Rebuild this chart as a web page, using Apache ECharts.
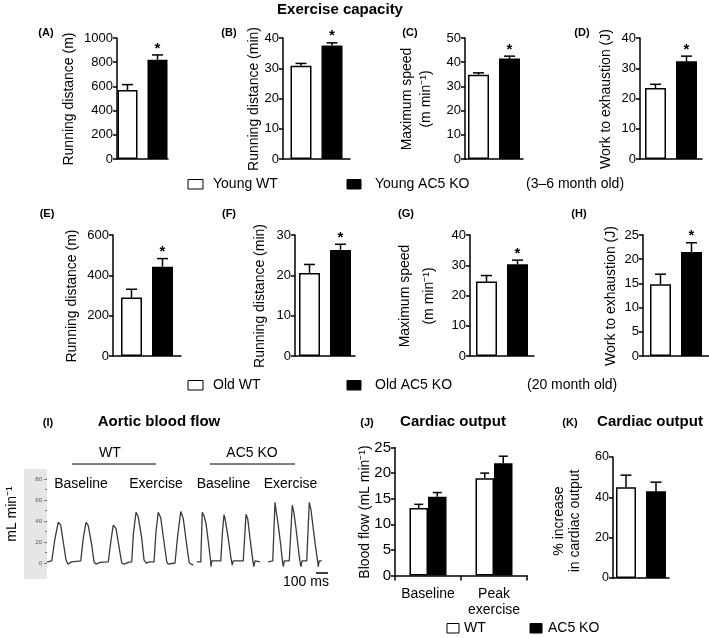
<!DOCTYPE html>
<html><head><meta charset="utf-8">
<script src="https://cdn.jsdelivr.net/npm/echarts@6/dist/echarts.min.js"></script>
<style>html,body{margin:0;padding:0;background:#fff}#c{width:709px;height:638px}</style>
</head><body><div id="c"></div>
<script>
const FONT = '"Liberation Sans", Arial, Helvetica, sans-serif';

// ---- Young mice (3–6 month old), panels A–D ----
const youngLetters = ['(A)', '(B)', '(C)', '(D)'];
const youngNames = ['Running distance (m)', 'Running distance (min)', 'Maximum speed\n(m min⁻¹)', 'Work to exhaustion (J)'];
const youngWT = [570, 30.8, 34.8, 23.5];
const youngWTErr = [45, 0.8, 0.8, 1.2];
const youngKO = [820, 37.5, 41.5, 32.3];
const youngKOErr = [40, 0.9, 1.0, 1.7];
const youngMax = [1000, 40, 50, 40];
const youngStep = [200, 10, 10, 10];

// ---- Old mice (20 month old), panels E–H ----
const oldLetters = ['(E)', '(F)', '(G)', '(H)'];
const oldNames = ['Running distance (m)', 'Running distance (min)', 'Maximum speed\n(m min⁻¹)', 'Work to exhaustion (J)'];
const oldWT = [290, 20.6, 24.6, 14.8];
const oldWTErr = [41, 2.1, 2.0, 2.1];
const oldKO = [443, 26.3, 30.3, 21.5];
const oldKOErr = [40, 1.4, 1.4, 1.9];
const oldMax = [600, 30, 40, 25];
const oldStep = [200, 10, 10, 5];

// ---- Cardiac output (J) ----
const cardiacCats = ['Baseline', 'Peak\nexercise'];
const cardiacWT = [13.2, 19.0];
const cardiacWTErr = [0.7, 1.0];
const cardiacKO = [15.4, 21.9];
const cardiacKOErr = [0.8, 1.4];

// ---- % increase in cardiac output (K) ----
const pctWT = [45];
const pctWTErr = [6];
const pctKO = [43];
const pctKOErr = [4.5];

// ---- Aortic blood flow traces (I): [time ms, mL/min] ----
const flowWT = [[0,1],[38,2],[64,23.5],[90,38.8],[110,36],[130,20],[152,3],[166,-1],[198,1],[270,2],[290,23.5],[312,38.8],[330,35.5],[358,17],[376,1],[392,-1],[424,0.5],[490,1],[510,20],[530,36],[552,33],[578,14],[598,0],[616,-1],[650,0.5],[678,1],[690,26.7],[712,48.3],[730,44],[758,23.5],[776,3],[792,0],[824,1],[856,1],[872,30],[890,48.3],[910,43],[936,20],[958,1],[970,-1],[1024,0],[1046,26.7],[1070,49],[1090,42.5],[1118,17],[1138,0],[1170,-2]];
const flowKOBase = [[1198,1],[1230,1],[1242,48.3],[1256,45],[1272,37.8],[1294,17],[1310,1],[1312,-3.5],[1318,2],[1390,2],[1404,30],[1416,46],[1424,42.5],[1450,23.5],[1472,4.5],[1482,-2],[1490,2],[1570,2],[1584,30],[1592,46.4],[1606,42],[1624,23.5],[1646,3],[1654,-3.5],[1664,2],[1704,1]];
const flowKOEx = [[1770,1],[1806,2],[1824,57.8],[1832,50.5],[1850,36],[1870,17],[1882,3],[1890,-3.5],[1898,2],[1938,2],[1962,55],[1974,49],[1992,33],[2010,14],[2024,1],[2032,-3.5],[2040,2],[2078,2],[2098,57.8],[2112,50.5],[2130,33],[2150,14],[2166,1],[2170,-3.5],[2178,2],[2198,2]];
const flowTicks = [0, 20, 40, 60, 80];

// ---- layout (positions only) ----
const rowTopLayout = [
  {left:117, width:51, bw:20, gap:10, lx:46, nx:69},
  {left:283, width:67, bw:21, gap:10, lx:229, nx:254},
  {left:465, width:58, bw:21, gap:10, lx:410, nx:417},
  {left:640, width:62, bw:21, gap:10, lx:582, nx:606}
];
const rowOldLayout = [
  {left:113, width:68, bw:21, gap:10, lx:47, nx:72},
  {left:295, width:60, bw:21, gap:10, lx:229, nx:260},
  {left:470, width:64, bw:21, gap:10, lx:406, nx:417},
  {left:643, width:66, bw:21, gap:10, lx:579, nx:611}
];

const chart = echarts.init(document.getElementById('c'), null, {renderer:'canvas'});
const grids = [], xAxes = [], yAxes = [], series = [], gfx = [];
const AX = {color:'#000', width:1.5};
const plain = v => String(v);

function txt(text, x, y, size, opts) {
  opts = opts || {};
  gfx.push({type:'text', x:x, y:y, rotation: opts.rot || 0, z: 10,
    style:{text:text, fill:'#000', font:(opts.bold?'bold ':'') + size + 'px ' + FONT,
      textAlign: opts.align || 'center', textVerticalAlign:'middle', lineHeight: opts.lh || size*1.2}});
}

function errSeries(g, data, off, capHalf, star) {
  series.push({type:'custom', xAxisIndex:g, yAxisIndex:g, z:5, data:data,
    renderItem: function(params, api) {
      const base = api.coord([api.value(0), api.value(1)]);
      const top = api.coord([api.value(0), api.value(1) + api.value(2)]);
      const x = base[0] + off;
      const ch = [
        {type:'line', shape:{x1:x, y1:base[1], x2:x, y2:top[1]}, style:{stroke:'#000', lineWidth:1.5}},
        {type:'line', shape:{x1:x-capHalf, y1:top[1], x2:x+capHalf, y2:top[1]}, style:{stroke:'#000', lineWidth:1.5}}
      ];
      if (star) ch.push({type:'text', style:{text:'*', x:x, y:top[1]+1, textAlign:'center', textVerticalAlign:'bottom', font:'bold 15px ' + FONT, fill:'#000'}});
      return {type:'group', children:ch};
    }});
}

function barPanel(L, top, height, wt, wtE, ko, koE, max, step, fontSize, star) {
  const g = grids.length;
  grids.push({left:L.left, top:top, width:L.width, height:height});
  xAxes.push({gridIndex:g, type:'category', data:[''], axisLine:{lineStyle:AX}, axisTick:{show:false}, axisLabel:{show:false}});
  yAxes.push({gridIndex:g, type:'value', min:0, max:max, interval:step,
    axisLine:{show:true, lineStyle:AX}, axisTick:{show:true, length:4, lineStyle:AX},
    axisLabel:{fontSize:fontSize, color:'#000', margin:4, fontFamily:FONT, formatter:plain}, splitLine:{show:false}});
  const gapPct = (L.gap / L.bw * 100) + '%';
  series.push({type:'bar', xAxisIndex:g, yAxisIndex:g, data:[wt], barWidth:L.bw, barGap:gapPct,
    itemStyle:{color:'#fff', borderColor:'#000', borderWidth:1.5}});
  series.push({type:'bar', xAxisIndex:g, yAxisIndex:g, data:[ko], barWidth:L.bw, barGap:gapPct,
    itemStyle:{color:'#000', borderColor:'#000', borderWidth:1.5}});
  const off = (L.bw + L.gap) / 2;
  errSeries(g, [[0, wt, wtE]], -off, 5.5, false);
  errSeries(g, [[0, ko, koE]], off, 5.5, star);
}

// Row 1
for (let i = 0; i < 4; i++) {
  const L = rowTopLayout[i];
  barPanel(L, 38, 121, youngWT[i], youngWTErr[i], youngKO[i], youngKOErr[i], youngMax[i], youngStep[i], 13, true);
  txt(youngLetters[i], L.lx, 33, 11, {bold:true});
  txt(youngNames[i], L.nx, 99, 14, {rot:Math.PI/2, lh:19});
}
// Row 2
for (let i = 0; i < 4; i++) {
  const L = rowOldLayout[i];
  barPanel(L, 235, 121, oldWT[i], oldWTErr[i], oldKO[i], oldKOErr[i], oldMax[i], oldStep[i], 13, true);
  txt(oldLetters[i], L.lx, 214, 11, {bold:true});
  txt(oldNames[i], L.nx, 296, 14, {rot:Math.PI/2, lh:24});
}

// Panel J
{
  const g = grids.length;
  grids.push({left:395, top:447.5, width:132, height:128});
  xAxes.push({gridIndex:g, type:'category', data:cardiacCats, axisLine:{lineStyle:AX},
    axisTick:{show:true, length:5, lineStyle:AX},
    axisLabel:{interval:0, fontSize:14, color:'#000', margin:11, lineHeight:16, fontFamily:FONT}});
  yAxes.push({gridIndex:g, type:'value', min:0, max:25, interval:5,
    axisLine:{show:true, lineStyle:AX}, axisTick:{show:true, length:4, lineStyle:AX},
    axisLabel:{fontSize:15, color:'#000', margin:4, fontFamily:FONT}, splitLine:{show:false}});
  series.push({type:'bar', xAxisIndex:g, yAxisIndex:g, data:cardiacWT, barWidth:18.5, barGap:'0%',
    itemStyle:{color:'#fff', borderColor:'#000', borderWidth:1.5}});
  series.push({type:'bar', xAxisIndex:g, yAxisIndex:g, data:cardiacKO, barWidth:18.5, barGap:'0%',
    itemStyle:{color:'#000', borderColor:'#000', borderWidth:1.5}});
  errSeries(g, cardiacWT.map((v, i) => [i, v, cardiacWTErr[i]]), -9.25, 4.5, false);
  errSeries(g, cardiacKO.map((v, i) => [i, v, cardiacKOErr[i]]), 9.25, 4.5, false);
}
// Panel K
barPanel({left:613, width:56, bw:20, gap:10}, 457, 121, pctWT[0], pctWTErr[0], pctKO[0], pctKOErr[0], 60, 20, 12.5, false);

// Panel I: aortic flow traces
{
  const g = grids.length;
  grids.push({left:47, top:479, width:278, height:84});
  xAxes.push({gridIndex:g, type:'value', min:0, max:2224, show:false});
  yAxes.push({gridIndex:g, type:'value', min:flowTicks[0], max:flowTicks[flowTicks.length-1], interval:20, position:'left', offset:3,
    axisLine:{show:false}, axisTick:{show:true, length:3, lineStyle:{color:'#555', width:0.8}},
    minorTick:{show:true, splitNumber:2, length:2, lineStyle:{color:'#555', width:0.8}},
    axisLabel:{fontSize:6, color:'#555', margin:2, fontFamily:FONT}, splitLine:{show:false}});
  [flowWT, flowKOBase, flowKOEx].forEach(d => series.push({type:'line', xAxisIndex:g, yAxisIndex:g, data:d,
    showSymbol:false, clip:false, lineStyle:{color:'#3a3a3a', width:1.3}}));
}

// Gray inset behind trace scale
gfx.unshift({type:'rect', z:-100, shape:{x:24, y:469, width:23, height:110}, style:{fill:'#e6e6e6'}});

// Titles and labels
txt('Exercise capacity', 340, 10, 15, {bold:true});
txt('(I)', 48, 423, 11, {bold:true});
txt('Aortic blood flow', 159, 422, 15, {bold:true});
txt('(J)', 367, 423, 11, {bold:true});
txt('Cardiac output', 453, 422, 15, {bold:true});
txt('(K)', 570, 423, 11, {bold:true});
txt('Cardiac output', 650, 422, 15, {bold:true});
txt('Blood flow (mL min⁻¹)', 365, 512, 14, {rot:Math.PI/2});
txt('% increase\nin cardiac output', 567.5, 521, 14, {rot:Math.PI/2, lh:16});
txt('mL min⁻¹', 12, 514, 14, {rot:Math.PI/2});

// Panel I annotations
txt('WT', 110, 453, 14);
txt('AC5 KO', 252, 453, 14);
gfx.push({type:'line', shape:{x1:72, y1:464, x2:156, y2:464}, style:{stroke:'#000', lineWidth:1}});
gfx.push({type:'line', shape:{x1:210, y1:464, x2:295, y2:464}, style:{stroke:'#000', lineWidth:1}});
txt('Baseline', 81, 484, 14);
txt('Exercise', 156, 484, 14);
txt('Baseline', 223.5, 484, 14);
txt('Exercise', 290.5, 484, 14);
gfx.push({type:'line', shape:{x1:316, y1:573, x2:328, y2:573}, style:{stroke:'#000', lineWidth:1.5}});
txt('100 ms', 306, 582, 14);

// Legends
function legendRow(y, items) {
  items.forEach(it => {
    if (it.box) gfx.push({type:'rect', shape:{x:it.bx, y:y-4.5, width:it.bw, height:9.5},
      style:{fill:it.box, stroke:'#000', lineWidth:1}});
    txt(it.text, it.tx, y, 14, {align:'left'});
  });
}
legendRow(184, [
  {box:'#fff', bx:188, bw:15, text:'Young WT', tx:213},
  {box:'#000', bx:347, bw:14, text:'Young AC5 KO', tx:375},
  {text:'(3–6 month old)', tx:526}
]);
legendRow(385, [
  {box:'#fff', bx:188, bw:15, text:'Old WT', tx:213},
  {box:'#000', bx:347, bw:14, text:'Old AC5 KO', tx:375},
  {text:'(20 month old)', tx:527}
]);
legendRow(628, [
  {box:'#fff', bx:447, bw:12, text:'WT', tx:464},
  {box:'#000', bx:530, bw:12, text:'AC5 KO', tx:548}
]);

chart.setOption({
  animation:false,
  backgroundColor:'#fff',
  textStyle:{fontFamily:FONT},
  grid:grids, xAxis:xAxes, yAxis:yAxes, series:series,
  graphic:{elements:gfx}
});
</script>
</body></html>
